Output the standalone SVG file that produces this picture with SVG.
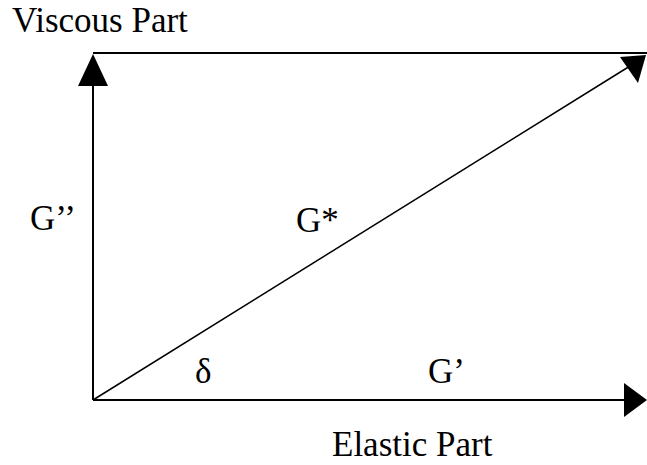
<svg xmlns="http://www.w3.org/2000/svg" width="647" height="465" viewBox="0 0 647 465">
<style>
text{font-family:"Liberation Serif","Times New Roman",serif;font-size:35px;fill:#000}
.ln{stroke:#000;stroke-width:2;fill:none}
.dg{stroke:#000;stroke-width:1.5;fill:none}
.ah{fill:#000}
</style>
<rect width="647" height="465" fill="#fff"/>
<g id="labels">
<text x="12" y="32">Viscous Part</text>
<text x="332" y="456">Elastic Part</text>
<text x="30" y="230">G’’</text>
<text x="296" y="232">G*</text>
<text x="195" y="383">δ</text>
<text x="428" y="383">G’</text>
</g>
<g id="connectors">
<line class="ln" x1="93" y1="400" x2="93" y2="80"/>
<polygon class="ah" points="93,54 78,86 108,86"/>
<line class="ln" x1="93" y1="53" x2="647" y2="53"/>
<line class="ln" x1="93" y1="400" x2="630" y2="400"/>
<polygon class="ah" points="647,400 624,383 624,417"/>
<line class="dg" x1="93" y1="400" x2="630" y2="66"/>
<polygon class="ah" points="646,55 620,57 638,83"/>
</g>
</svg>
